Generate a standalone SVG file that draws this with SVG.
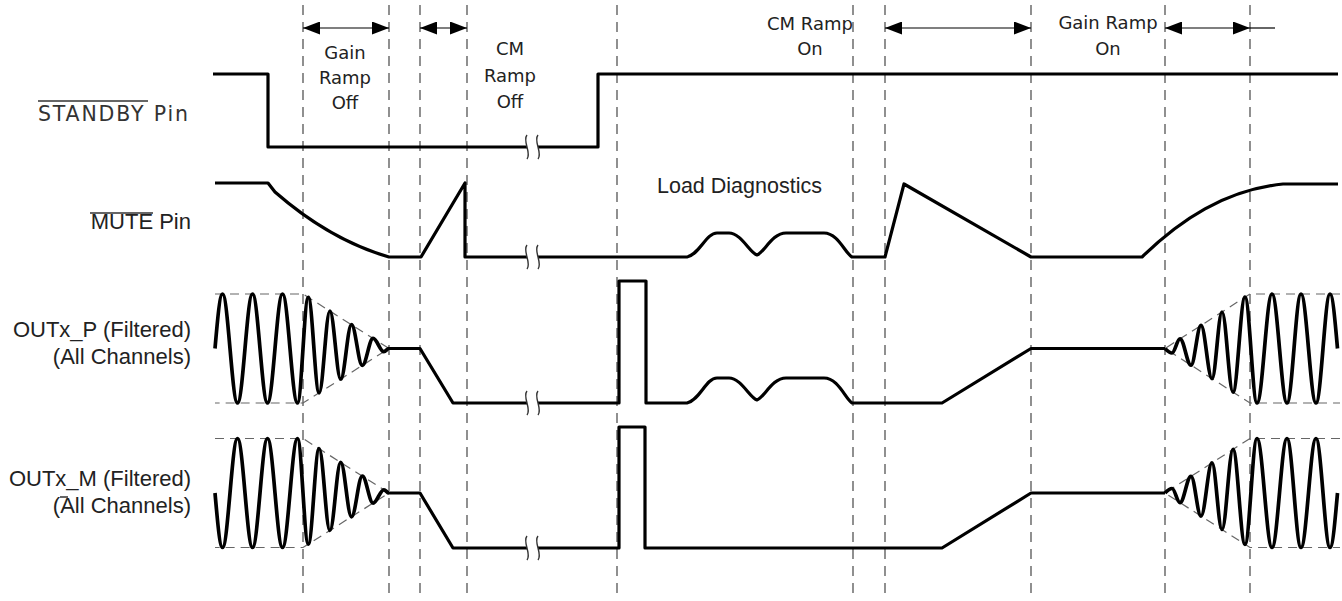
<svg xmlns="http://www.w3.org/2000/svg" xmlns:xlink="http://www.w3.org/1999/xlink" width="1342" height="601" viewBox="0 0 1342 601">
<style>
.sig{fill:none;stroke:#000;stroke-width:3.2;stroke-linejoin:round;stroke-linecap:butt}
.sin{fill:none;stroke:#000;stroke-width:3.7;stroke-linejoin:round}
.grid{stroke:#555;stroke-width:1.3;stroke-dasharray:10 7;fill:none}
.env{stroke:#666;stroke-width:1.2;stroke-dasharray:9 6;fill:none}
.arr{stroke:#000;stroke-width:1.2;fill:none}
.brk{fill:none;stroke:#333;stroke-width:1.4}
.dv{font-family:"DejaVu Sans",Verdana,sans-serif;font-size:18px;fill:#222}
.ar{font-family:"Liberation Sans",Arial,sans-serif;font-size:22px;fill:#222}
.ov{stroke:#333;stroke-width:1.5}
</style>
<defs>
<marker id="ah" viewBox="0 0 17 13" refX="17" refY="6.5" markerWidth="17" markerHeight="13" markerUnits="userSpaceOnUse" orient="auto-start-reverse">
<path d="M0,0 L17,6.5 L0,13 z" fill="#000"/>
</marker>
<g id="brk">
<path d="M0,-12 C-5,-6 5,6 0,12"/>
<path d="M11,-12 C6,-6 16,6 11,12"/>
</g>
<path id="sineL" d="M215,348.5 C217.45,320.6 219.79,294 222.5,294 C227.95,294 232.05,403 237.5,403 C242.95,403 247.05,294 252.5,294 C257.95,294 262.05,403 267.5,403 C272.95,403 277.05,294 282.5,294 C287.95,294 292.05,403 297.5,403 C301.42,403 304.38,297.4 308.3,297.4 C312.22,297.4 315.18,392.8 319.1,392.8 C323.02,392.8 325.98,311.05 329.9,311.05 C333.82,311.05 336.78,379.1 340.7,379.1 C344.62,379.1 347.58,324.7 351.5,324.7 C355.42,324.7 358.38,365.4 362.3,365.4 C366.22,365.4 369.18,338.4 373.1,338.4 C377.02,338.4 379.98,351.7 383.9,351.7 C385.8,351.7 387,348.5 389,348.5"/>
<path id="sineR" d="M1165,348.5 C1167.28,350.8 1169.47,353 1172,353 C1174.91,353 1177.09,338.9 1180,338.9 C1184,338.9 1187,365.2 1191,365.2 C1194.63,365.2 1197.37,325.4 1201,325.4 C1205,325.4 1208,378.6 1212,378.6 C1215.63,378.6 1218.37,312 1222,312 C1226,312 1229,392.1 1233,392.1 C1237.36,392.1 1240.64,297.2 1245,297.2 C1249.36,297.2 1252.64,403 1257,403 C1262.45,403 1266.55,294 1272,294 C1277.45,294 1281.55,403 1287,403 C1292.09,403 1295.910,294 1301,294 C1306.45,294 1310.55,403 1316,403 C1321.09,403 1324.91,294 1330,294 C1332.7,294 1335.05,320.6 1337.5,348.5"/>
<path id="envL" d="M215,294 L303,294 L389,348.5 L303,403 L215,403"/>
<path id="envR" d="M1340,294 L1250,294 L1165,348.5 L1250,403 L1340,403"/>
</defs>

<g id="timing-lines">
<line class="grid" x1="303" y1="5" x2="303" y2="598"/>
<line class="grid" x1="389" y1="5" x2="389" y2="598"/>
<line class="grid" x1="420" y1="5" x2="420" y2="598"/>
<line class="grid" x1="467" y1="5" x2="467" y2="598"/>
<line class="grid" x1="617" y1="5" x2="617" y2="598"/>
<line class="grid" x1="853" y1="5" x2="853" y2="598"/>
<line class="grid" x1="885" y1="5" x2="885" y2="598"/>
<line class="grid" x1="1031" y1="5" x2="1031" y2="598"/>
<line class="grid" x1="1165" y1="5" x2="1165" y2="598"/>
<line class="grid" x1="1250" y1="5" x2="1250" y2="598"/>
</g>

<g id="connectors">
<line class="arr" x1="303" y1="28" x2="389" y2="28" marker-start="url(#ah)" marker-end="url(#ah)"/>
<line class="arr" x1="420" y1="28" x2="467" y2="28" marker-start="url(#ah)" marker-end="url(#ah)"/>
<line class="arr" x1="885" y1="28" x2="1031" y2="28" marker-start="url(#ah)" marker-end="url(#ah)"/>
<line class="arr" x1="1165" y1="28" x2="1250" y2="28" marker-start="url(#ah)" marker-end="url(#ah)"/>
<line class="arr" x1="1250" y1="28" x2="1275" y2="28"/>
</g>

<g id="phase-labels">
<text class="dv" text-anchor="middle" x="345" y="59">Gain</text>
<text class="dv" text-anchor="middle" x="345" y="84">Ramp</text>
<text class="dv" text-anchor="middle" x="345" y="109">Off</text>
<text class="dv" text-anchor="middle" x="510" y="55">CM</text>
<text class="dv" text-anchor="middle" x="510" y="82">Ramp</text>
<text class="dv" text-anchor="middle" x="510" y="108">Off</text>
<text class="dv" text-anchor="middle" x="810" y="30">CM Ramp</text>
<text class="dv" text-anchor="middle" x="810" y="55">On</text>
<text class="dv" text-anchor="middle" x="1108" y="29">Gain Ramp</text>
<text class="dv" text-anchor="middle" x="1108" y="55">On</text>
<text class="ar" x="657" y="193" style="font-size:21.5px">Load Diagnostics</text>
</g>

<g id="standby">
<text x="38" y="121" textLength="150" lengthAdjust="spacing" style="font-family:'DejaVu Sans',Verdana,sans-serif;font-size:20.5px;fill:#333">STANDBY Pin</text>
<line class="ov" x1="38" y1="101" x2="148" y2="101"/>
<path class="sig" d="M213,74 L268,74 L268,147 L527,147 M538,147 L598,147 L598,74 L1338,74"/>
<use href="#brk" class="brk" x="527" y="147"/>
</g>

<g id="mute">
<text class="ar" text-anchor="end" x="191" y="229">MUTE Pin</text>
<line class="ov" x1="90" y1="213" x2="153" y2="213"/>
<path class="sig" d="M215,183 L268,183 L275,192 Q330,240 389,257 L421,257 L465,183 L465,257 L527,257 M538,257 L687,257 C700,254 706,233 717,233 L729,233 C741,233 750,253 757,255 C764,253 772,233 786,233 L824,233 C838,233 845,253 852,257 L885,257 L904,184 L1031,257 L1142,257 C1180,220 1225,190 1283,184 L1338,184"/>
<use href="#brk" class="brk" x="527" y="257"/>
</g>

<g id="outx-p">
<text class="ar" text-anchor="end" x="191" y="337">OUTx_P (Filtered)</text>
<text class="ar" text-anchor="end" x="191" y="364">(All Channels)</text>
<use href="#envL" class="env"/>
<use href="#envR" class="env"/>
<use href="#sineL" class="sin"/>
<path class="sig" d="M389,348.5 L420,348.5 L453,403 L527,403 M538,403 L619,403 L619,281 L646,281 L646,403 L687,403 C700,400 706,378 717,378 L729,378 C741,378 750,398 757,400 C764,398 772,378 786,378 L824,378 C838,378 845,398 852,403 L942,403 L1031,348.5 L1165,348.5"/>
<use href="#sineR" class="sin"/>
<use href="#brk" class="brk" x="527" y="403"/>
</g>

<g id="outx-m">
<text class="ar" text-anchor="end" x="191" y="486">OUTx_M (Filtered)</text>
<text class="ar" text-anchor="end" x="191" y="513">(All Channels)</text>
<line class="ov" x1="60" y1="497" x2="68" y2="497"/>
<use href="#envL" class="env" transform="translate(0,144.5)"/>
<use href="#envR" class="env" transform="translate(0,144.5)"/>
<use href="#sineL" class="sin" transform="matrix(1,0,0,-1,0,841.5)"/>
<path class="sig" d="M389,493 L420,493 L453,548 L527,548 M538,548 L619,548 L619,427 L645,427 L645,548 L942,548 L1031,493 L1165,493"/>
<use href="#sineR" class="sin" transform="matrix(1,0,0,-1,0,841.5)"/>
<use href="#brk" class="brk" x="527" y="548"/>
</g>
</svg>
